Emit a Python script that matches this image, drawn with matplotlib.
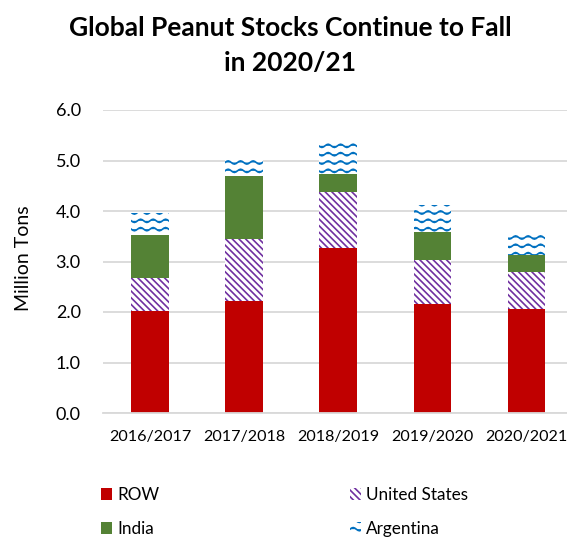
import numpy as np
import matplotlib
matplotlib.use("Agg")
import matplotlib.pyplot as plt
import matplotlib.hatch as mhatch
from matplotlib.path import Path
from matplotlib.patches import Patch

# ---------------- data ----------------
years = ["2016/2017", "2017/2018", "2018/2019", "2019/2020", "2020/2021"]
row_vals = [2.02, 2.22, 3.27, 2.16, 2.05]
us_vals = [0.66, 1.23, 1.10, 0.87, 0.75]
india_vals = [0.84, 1.25, 0.36, 0.56, 0.32]
arg_vals = [0.45, 0.37, 0.62, 0.53, 0.41]
yticks = [0.0, 1.0, 2.0, 3.0, 4.0, 5.0, 6.0]

# ---------------- custom wavy hatch (replaces '-' hatch) ----------------
class WaveHatch(mhatch.HatchPatternBase):
    cycles = 8
    pts_per_cycle = 8

    def __init__(self, hatch, density):
        self.num_rows = int((hatch.count('-') + hatch.count('+')) * density)
        self.npts = self.cycles * self.pts_per_cycle + 1
        self.num_vertices = self.num_rows * self.npts

    def set_vertices_and_codes(self, vertices, codes):
        steps, stepsize = np.linspace(0.0, 1.0, self.num_rows, False, retstep=True)
        steps += stepsize / 2.0
        x = np.linspace(0.0, 1.0, self.npts)
        amp = 0.016
        for i, y0 in enumerate(steps):
            sl = slice(i * self.npts, (i + 1) * self.npts)
            vertices[sl, 0] = x
            vertices[sl, 1] = y0 + amp * np.sin(2 * np.pi * self.cycles * x)
            codes[sl] = Path.LINETO
            codes[i * self.npts] = Path.MOVETO

mhatch._hatch_types = [WaveHatch if t is mhatch.HorizontalHatch else t
                       for t in mhatch._hatch_types]

BS = chr(92)
HATCH_US = BS * 5
HATCH_ARG = '--'

plt.rcParams['font.family'] = ['Lato', 'DejaVu Sans']
plt.rcParams['hatch.linewidth'] = 1.2

c_row = '#C00000'
c_us = '#7030A0'
c_india = '#548235'
c_arg = '#0070C0'

W, H = 567, 538
fig = plt.figure(figsize=(W / 100, H / 100), dpi=100)
ax = fig.add_axes([103 / W, (H - 413) / H, 464 / W, 303 / H])

x = np.arange(len(years))
bw = 0.40
row = np.array(row_vals)
us = np.array(us_vals)
ind = np.array(india_vals)
arg = np.array(arg_vals)

ax.bar(x, row, bw, color=c_row, linewidth=0, zorder=3)
ax.bar(x, us, bw, bottom=row, facecolor='white', edgecolor=c_us,
       hatch=HATCH_US, linewidth=0, zorder=3)
ax.bar(x, ind, bw, bottom=row + us, color=c_india, linewidth=0, zorder=3)
ax.bar(x, arg, bw, bottom=row + us + ind, facecolor='white', edgecolor=c_arg,
       hatch=HATCH_ARG, linewidth=0, zorder=3)

ax.set_xlim(-0.5, 4.43)
ax.set_ylim(0, 6)
ax.set_yticks(yticks)
ax.set_yticklabels([f"{v:.1f}" for v in yticks])
ax.set_xticks(x)
ax.set_xticklabels(years)
ax.tick_params(axis='y', length=0, pad=16, labelsize=13, colors='#000000')
ax.tick_params(axis='x', length=0, pad=12, labelsize=11.6, colors='#000000')
ax.grid(axis='y', color='#D9D9D9', linewidth=1.3, zorder=0)
for s in ['top', 'right', 'left']:
    ax.spines[s].set_visible(False)
ax.spines['bottom'].set_color('#D9D9D9')
ax.spines['bottom'].set_linewidth(1.3)
ax.spines['bottom'].set_zorder(4)

fig.text(24 / W, (H - 258) / H, "Million Tons", rotation=90, ha='center',
         va='center', fontsize=14)
fig.text(290 / W, (H - 28) / H, "Global Peanut Stocks Continue to Fall",
         ha='center', va='center', fontsize=19, fontweight='bold')
fig.text(290 / W, (H - 63) / H, "in 2020/21", ha='center', va='center',
         fontsize=19, fontweight='bold')

h_row = Patch(facecolor=c_row, edgecolor=c_row, linewidth=0)
h_ind = Patch(facecolor=c_india, edgecolor=c_india, linewidth=0)
h_us = Patch(facecolor='white', edgecolor=c_us, hatch=HATCH_US, linewidth=0)
h_arg = Patch(facecolor='white', edgecolor=c_arg, hatch=HATCH_ARG, linewidth=0)

common = dict(frameon=False, fontsize=12.3, handlelength=0.64, handleheight=0.64,
              handletextpad=0.3, labelspacing=1.05, borderpad=0,
              borderaxespad=0, loc='center left')
leg1 = fig.legend([h_row, h_ind], ["ROW", "India"],
                  bbox_to_anchor=(101 / W, (H - 512) / H), **common)
leg2 = fig.legend([h_us, h_arg], ["United States", "Argentina"],
                  bbox_to_anchor=(350 / W, (H - 512) / H), **common)

fig.savefig("out.png", dpi=100)
